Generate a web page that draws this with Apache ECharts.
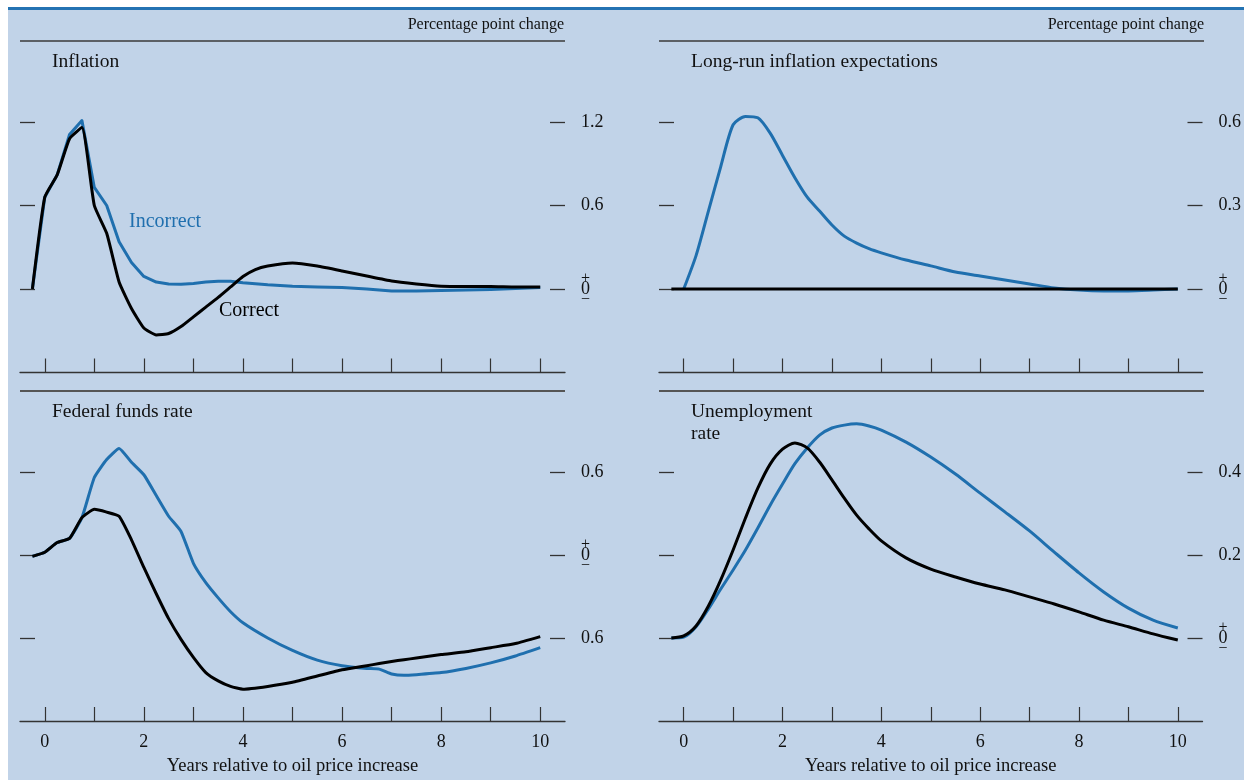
<!DOCTYPE html>
<html>
<head>
<meta charset="utf-8">
<script src="https://cdn.jsdelivr.net/npm/echarts@6/dist/echarts.min.js"></script>
<style>
html,body{margin:0;padding:0;background:#ffffff;width:1244px;height:780px;overflow:hidden;}
#bg{position:absolute;left:8px;top:7px;width:1236px;height:773px;background:#c1d3e8;border-top:3px solid #2473b3;box-sizing:border-box;}
#chart{position:absolute;left:0;top:0;width:1244px;height:780px;}
</style>
</head>
<body>
<div id="bg"></div>
<div id="chart"></div>
<script>
// ---------- DATA ----------
const panelTitles = ['Inflation', 'Long-run inflation expectations', 'Federal funds rate', 'Unemployment\nrate'];
const unitLabel = 'Percentage point change';
const xAxisName = 'Years relative to oil price increase';
const xTickValues = [0,1,2,3,4,5,6,7,8,9,10];
const xLabelValues = [0,2,4,6,8,10];

const inflYears = [-0.25,0,0.25,0.5,0.75,1,1.25,1.5,1.75,2,2.25,2.5,2.75,3,3.25,3.5,3.75,4,4.25,4.5,5,5.5,6,6.5,7,7.5,8,8.5,9,9.5,10];
const inflIncorrect = [0,0.66,0.82,1.11,1.21,0.73,0.60,0.34,0.19,0.09,0.05,0.036,0.034,0.04,0.05,0.055,0.055,0.045,0.037,0.03,0.02,0.015,0.01,0,-0.015,-0.015,-0.01,-0.007,-0.003,0.003,0.01];
const inflCorrect = [0,0.66,0.82,1.08,1.16,0.60,0.40,0.05,-0.14,-0.28,-0.33,-0.32,-0.27,-0.20,-0.13,-0.06,0.015,0.09,0.14,0.165,0.187,0.165,0.13,0.093,0.057,0.036,0.02,0.018,0.018,0.014,0.014];
const inflTicks = [0,0.6,1.2];

const expYearsIncorrect = [0,0.25,0.5,0.75,1,1.25,1.5,1.75,2,2.25,2.5,2.75,3,3.25,3.5,3.75,4,4.5,5,5.5,6,6.5,7,7.5,8,8.5,9,9.5,10];
const expIncorrect = [0,0.12,0.28,0.44,0.59,0.62,0.615,0.56,0.48,0.40,0.33,0.28,0.23,0.19,0.165,0.145,0.13,0.104,0.083,0.061,0.047,0.032,0.018,0.004,-0.004,-0.007,-0.007,-0.004,0];
const expYearsCorrect = [-0.25,10];
const expCorrect = [0,0];
const expTicks = [0,0.3,0.6];

const fedYears = [-0.25,0,0.25,0.5,0.75,1,1.25,1.5,1.75,2,2.25,2.5,2.75,3,3.25,3.5,3.75,4,4.5,5,5.5,6,6.5,6.75,7,7.25,7.5,8,8.5,9,9.5,10];
const fedIncorrect = [-0.01,0.02,0.09,0.12,0.27,0.56,0.69,0.77,0.67,0.58,0.43,0.28,0.17,-0.06,-0.20,-0.31,-0.41,-0.49,-0.60,-0.69,-0.76,-0.80,-0.82,-0.825,-0.86,-0.87,-0.865,-0.85,-0.82,-0.78,-0.73,-0.67];
const fedCorrect = [-0.01,0.02,0.09,0.12,0.27,0.33,0.31,0.28,0.11,-0.09,-0.28,-0.46,-0.61,-0.74,-0.85,-0.91,-0.95,-0.97,-0.95,-0.92,-0.875,-0.83,-0.80,-0.785,-0.77,-0.757,-0.745,-0.72,-0.70,-0.67,-0.64,-0.59];
const fedTicks = [-0.6,0,0.6];

const unYears = [-0.25,0,0.25,0.5,0.75,1,1.25,1.5,1.75,2,2.25,2.5,2.75,3,3.25,3.5,3.75,4,4.5,5,5.5,6,6.5,7,7.5,8,8.5,9,9.5,10];
const unIncorrect = [0,0.002,0.027,0.07,0.118,0.164,0.212,0.265,0.32,0.371,0.42,0.458,0.489,0.506,0.513,0.516,0.511,0.501,0.472,0.436,0.395,0.349,0.304,0.258,0.207,0.157,0.111,0.072,0.043,0.024];
const unCorrect = [0,0.005,0.029,0.077,0.14,0.212,0.289,0.361,0.419,0.455,0.47,0.458,0.424,0.381,0.337,0.296,0.263,0.234,0.193,0.166,0.147,0.130,0.116,0.099,0.082,0.063,0.043,0.027,0.010,-0.005];
const unTicks = [0,0.2,0.4];

const seriesNames = ['Incorrect', 'Correct'];

// ---------- STYLE / LAYOUT ----------
const FONT = "'Liberation Serif','DejaVu Serif',serif";
const BLUE = '#1f6fae';
const DARK = '#333333';
const zip = (xs, ys) => xs.map((x, i) => [x, ys[i]]);

const grids = [
  {left: 20, width: 545, top: 38.5, height: 334},
  {left: 659, width: 545, top: 38.5, height: 334},
  {left: 20, width: 545, top: 389, height: 332},
  {left: 659, width: 545, top: 389, height: 332}
];
const yRanges = [[-0.6, 1.8], [-0.3, 0.9], [-1.2, 1.2], [-0.2, 0.6]];
const yTicks = [inflTicks, expTicks, fedTicks, unTicks];

const xAxes = grids.map((g, i) => ({
  type: 'value', gridIndex: i, min: -0.5, max: 10.5,
  axisLine: {show: true, onZero: false, lineStyle: {color: DARK, width: 1.3}},
  axisTick: {show: true, inside: true, length: 14, customValues: xTickValues, lineStyle: {color: DARK, width: 1.2}},
  axisLabel: {show: i >= 2, customValues: xLabelValues, fontFamily: FONT, fontSize: 18, color: '#111', margin: 12},
  splitLine: {show: false},
  name: i >= 2 ? xAxisName : '', nameLocation: 'middle', nameGap: 36,
  nameTextStyle: {fontFamily: FONT, fontSize: 18.5, color: '#111'}
}));

const zeroLabel = '{p|+}\n{z|0}\n{m|\u2212}';
const yAxes = [];
grids.forEach((g, i) => {
  yAxes.push({
    type: 'value', gridIndex: i, position: 'left', min: yRanges[i][0], max: yRanges[i][1],
    axisLine: {show: false, onZero: false},
    axisTick: {show: true, inside: true, length: 15, customValues: yTicks[i], lineStyle: {color: DARK, width: 1.3}},
    axisLabel: {show: false}, splitLine: {show: false}
  });
  yAxes.push({
    type: 'value', gridIndex: i, position: 'right', min: yRanges[i][0], max: yRanges[i][1],
    axisLine: {show: false, onZero: false},
    axisTick: {show: true, inside: true, length: 15, customValues: yTicks[i], lineStyle: {color: DARK, width: 1.3}},
    axisLabel: {
      show: true, customValues: yTicks[i], margin: 16, fontFamily: FONT, fontSize: 18, color: '#111',
      formatter: v => Math.abs(v) < 1e-9 ? zeroLabel : Math.abs(v).toFixed(1),
      rich: {
        p: {fontFamily: FONT, fontSize: 16, lineHeight: 6, color: '#111'},
        z: {fontFamily: FONT, fontSize: 18, lineHeight: 15, color: '#111'},
        m: {fontFamily: FONT, fontSize: 16, lineHeight: 6, color: '#111'}
      }
    },
    splitLine: {show: false}
  });
});

function line(name, idx, data, color, smooth) {
  return {
    name, type: 'line', xAxisIndex: idx, yAxisIndex: idx * 2, data, smooth: smooth,
    showSymbol: false, symbol: 'none', silent: true, animation: false,
    lineStyle: {color, width: 3, join: 'round'}, z: color === BLUE ? 3 : 4
  };
}

const series = [
  line(seriesNames[0], 0, zip(inflYears, inflIncorrect), BLUE, false),
  line(seriesNames[1], 0, zip(inflYears, inflCorrect), '#000', 0.15),
  line(seriesNames[0], 1, zip(expYearsIncorrect, expIncorrect), BLUE, 0.25),
  line(seriesNames[1], 1, zip(expYearsCorrect, expCorrect), '#000', false),
  line(seriesNames[0], 2, zip(fedYears, fedIncorrect), BLUE, 0.15),
  line(seriesNames[1], 2, zip(fedYears, fedCorrect), '#000', 0.15),
  line(seriesNames[0], 3, zip(unYears, unIncorrect), BLUE, 0.25),
  line(seriesNames[1], 3, zip(unYears, unCorrect), '#000', 0.25)
];

const titleStyle = {fontFamily: FONT, fontSize: 19.5, fontWeight: 'normal', color: '#111', lineHeight: 22};
const unitStyle = {fontFamily: FONT, fontSize: 16, fontWeight: 'normal', color: '#111'};
const titles = [
  {text: panelTitles[0], left: 52, top: 51, padding: 0, textStyle: titleStyle},
  {text: panelTitles[1], left: 691, top: 51, padding: 0, textStyle: titleStyle},
  {text: panelTitles[2], left: 52, top: 401, padding: 0, textStyle: titleStyle},
  {text: panelTitles[3], left: 691, top: 401, padding: 0, textStyle: titleStyle},
  {text: unitLabel, right: 680, top: 17, padding: 0, textStyle: unitStyle},
  {text: unitLabel, right: 40, top: 17, padding: 0, textStyle: unitStyle}
];

const sepStyle = {stroke: '#3a3a3a', lineWidth: 1.6};
const graphic = [
  {type: 'line', shape: {x1: 20, y1: 41, x2: 565, y2: 41}, style: sepStyle},
  {type: 'line', shape: {x1: 659, y1: 41, x2: 1204, y2: 41}, style: sepStyle},
  {type: 'line', shape: {x1: 20, y1: 391, x2: 565, y2: 391}, style: {stroke: '#555', lineWidth: 2}},
  {type: 'line', shape: {x1: 659, y1: 391, x2: 1204, y2: 391}, style: {stroke: '#555', lineWidth: 2}},
  {type: 'text', left: 129, top: 212, style: {text: seriesNames[0], fontFamily: FONT, fontSize: 20, fill: BLUE}},
  {type: 'text', left: 219, top: 301, style: {text: seriesNames[1], fontFamily: FONT, fontSize: 20, fill: '#000'}}
];

const chart = echarts.init(document.getElementById('chart'), null, {renderer: 'canvas'});
chart.setOption({
  backgroundColor: 'transparent',
  animation: false,
  title: titles,
  grid: grids,
  xAxis: xAxes,
  yAxis: yAxes,
  series,
  graphic
});
</script>
</body>
</html>
